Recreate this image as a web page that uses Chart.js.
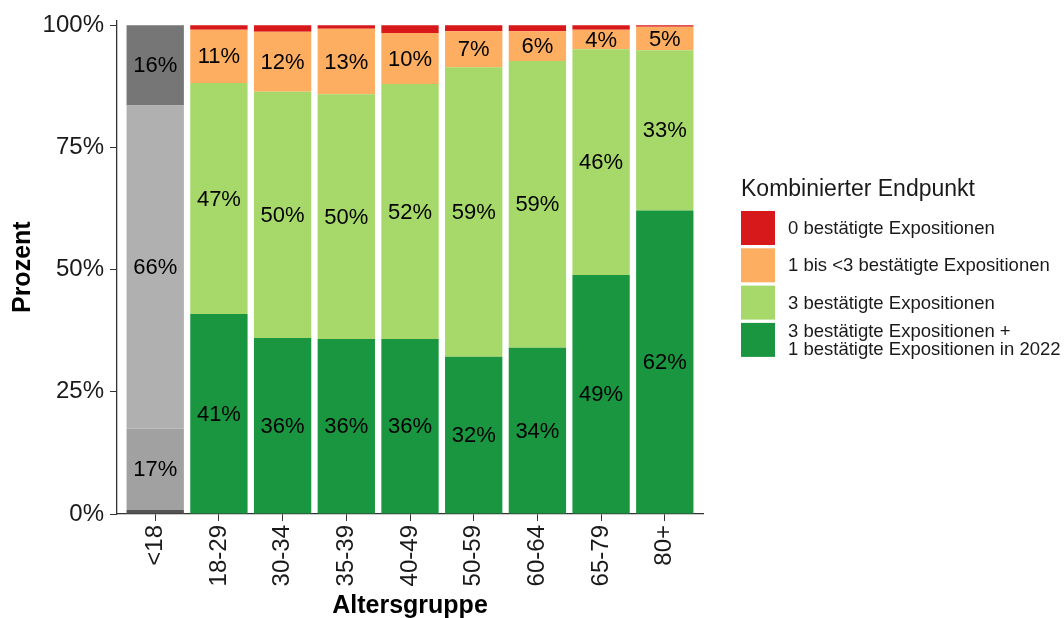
<!DOCTYPE html>
<html lang="de">
<head>
<meta charset="UTF-8">
<title>Kombinierter Endpunkt nach Altersgruppe</title>
<script src="https://cdn.jsdelivr.net/npm/chart.js"></script>
<style>
  body { margin: 0; background: #fff; }
  #wrap { width: 1064px; height: 618px; }
</style>
</head>
<body>
<div id="wrap"><canvas id="endpunktChart"></canvas></div>
<script>
// values in percent
const ageGroups  = ['<18', '18-29', '30-34', '35-39', '40-49', '50-59', '60-64', '65-79', '80+'];
const boosted    = [0.8, 40.9, 36.0, 35.8, 35.8, 32.2, 34.0, 48.9, 62.1];   // 3 + 1 in 2022
const threeExp   = [16.7, 47.3, 50.4, 50.1, 52.2, 59.2, 58.7, 46.2, 32.8];  // 3
const oneToThree = [66.1, 10.9, 12.3, 13.4, 10.4, 7.4, 6.1, 4.0, 4.8];     // 1 bis <3
const zeroExp    = [16.4, 0.9, 1.3, 0.7, 1.6, 1.2, 1.2, 0.9, 0.3];         // 0
const yTicks     = [0, 25, 50, 75, 100];

// bottom to top of the stack
const seriesLabels = [
  ['3 bestätigte Expositionen +', '1 bestätigte Expositionen in 2022'],
  ['3 bestätigte Expositionen'],
  ['1 bis <3 bestätigte Expositionen'],
  ['0 bestätigte Expositionen']
];
const seriesColors = ['#1a9641', '#a6d96a', '#fdae61', '#d7191c'];
const greyColors   = ['#545454', '#a1a1a1', '#b0b0b0', '#767676']; // the <18 bar
const seriesValues = [boosted, threeExp, oneToThree, zeroExp];

const FONT = '"Liberation Sans", Arial, sans-serif';
const INK = '#1a1a1a';

const datasets = seriesValues.map((vals, s) => ({
  label: seriesLabels[s].join(' '),
  data: vals.map((v, i) => ({ x: i, y: v })),
  backgroundColor: vals.map((v, i) => i === 0 ? greyColors[s] : seriesColors[s]),
  borderWidth: 0,
  barPercentage: 0.9,
  categoryPercentage: 1
}));

const segmentLabels = {
  id: 'segmentLabels',
  afterDatasetsDraw(chart) {
    const ctx = chart.ctx;
    ctx.save();
    ctx.font = '22px ' + FONT;
    ctx.fillStyle = '#000';
    ctx.textAlign = 'center';
    ctx.textBaseline = 'middle';
    chart.data.datasets.forEach((ds, di) => {
      chart.getDatasetMeta(di).data.forEach((bar, i) => {
        const v = ds.data[i].y;
        if (v < 3) return;
        const p = bar.getProps(['x', 'y', 'base'], true);
        ctx.fillText(Math.round(v) + '%', p.x, (p.y + p.base) / 2 + 1);
      });
    });
    ctx.restore();
  }
};

const sideLegend = {
  id: 'sideLegend',
  afterDraw(chart) {
    const ctx = chart.ctx;
    const left = 741, key = 34, step = 37.3;
    let top = 211;
    ctx.save();
    ctx.fillStyle = INK;
    ctx.font = '23px ' + FONT;
    ctx.textAlign = 'left';
    ctx.textBaseline = 'alphabetic';
    ctx.fillText('Kombinierter Endpunkt', left, 196);
    ctx.font = '18.5px ' + FONT;
    ctx.textBaseline = 'middle';
    for (let s = seriesLabels.length - 1; s >= 0; s--) {
      ctx.fillStyle = seriesColors[s];
      ctx.fillRect(left, top, key, key);
      ctx.fillStyle = INK;
      const lines = seriesLabels[s];
      const mid = top + key / 2 + 1;
      lines.forEach((line, k) => {
        ctx.fillText(line, 788, mid + (k - (lines.length - 1) / 2) * 18);
      });
      top += step;
    }
    ctx.restore();
  }
};

const ctx = document.getElementById('endpunktChart').getContext('2d');
new Chart(ctx, {
  type: 'bar',
  data: { datasets: datasets },
  plugins: [segmentLabels, sideLegend],
  options: {
    responsive: true,
    maintainAspectRatio: false,
    animation: false,
    layout: { padding: { left: 0, right: 361, top: 18, bottom: 0 } },
    plugins: {
      legend: { display: false },
      tooltip: { enabled: false }
    },
    scales: {
      x: {
        type: 'linear',
        stacked: true,
        offset: false,
        min: -0.6,
        max: 8.6,
        afterBuildTicks: axis => { axis.ticks = ageGroups.map((g, i) => ({ value: i })); },
        afterFit: axis => { axis.height = 104; },
        grid: { display: true, offset: false, drawOnChartArea: false, drawTicks: true, tickLength: 7, tickColor: '#333' },
        border: { display: true, color: '#333', width: 1.3 },
        ticks: {
          autoSkip: false,
          minRotation: 90,
          maxRotation: 90,
          padding: 4,
          color: INK,
          font: { family: FONT, size: 24 },
          callback: v => ageGroups[v]
        },
        title: {
          display: true,
          text: 'Altersgruppe',
          color: '#000',
          padding: { top: 0, bottom: -3 },
          font: { family: FONT, size: 25, weight: 'bold' }
        }
      },
      y: {
        stacked: true,
        min: 0,
        max: 101,
        afterBuildTicks: axis => { axis.ticks = yTicks.map(v => ({ value: v })); },
        afterFit: axis => { axis.width = 117; },
        grid: { display: true, drawOnChartArea: false, drawTicks: true, tickLength: 7, tickColor: '#333' },
        border: { display: true, color: '#333', width: 1.3 },
        ticks: {
          padding: 6,
          color: INK,
          font: { family: FONT, size: 24 },
          callback: v => v + '%'
        },
        title: {
          display: true,
          text: 'Prozent',
          color: '#000',
          padding: { top: 8, bottom: 0 },
          font: { family: FONT, size: 25, weight: 'bold' }
        }
      }
    }
  }
});
</script>
</body>
</html>
